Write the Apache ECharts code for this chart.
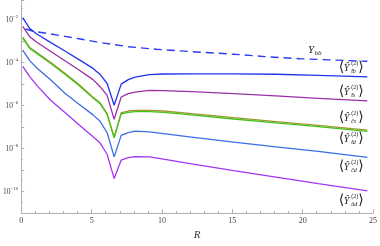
<!DOCTYPE html>
<html><head><meta charset="utf-8">
<script src="https://cdn.jsdelivr.net/npm/echarts/dist/echarts.min.js"></script>
<style>html,body{margin:0;padding:0;background:#fff}#c{width:380px;height:246px}</style>
</head><body><div id="c"></div>
<script>
// sample points in R (log10 values of Yukawa-like quantities)
const rGrid = [0.1,0.6,1.1,2.1,3.1,4.1,5.1,5.6,6.1,6.6,7.1,7.6,8.1,9.1,10.1,12.1,15.1,18.1,21.1,24.6];
const logTb = [-1.92,-2.43,-2.68,-3.08,-3.47,-3.87,-4.28,-4.56,-4.98,-5.99,-5.01,-4.80,-4.68,-4.57,-4.54,-4.53,-4.53,-4.55,-4.60,-4.67];
const logTs = [-2.33,-2.81,-3.06,-3.49,-3.92,-4.35,-4.80,-5.13,-5.53,-6.65,-5.61,-5.45,-5.38,-5.30,-5.31,-5.36,-5.45,-5.56,-5.67,-5.79];
const logCs = [-2.83,-3.31,-3.54,-4.01,-4.51,-5.03,-5.62,-5.88,-6.38,-7.48,-6.34,-6.26,-6.23,-6.23,-6.26,-6.38,-6.57,-6.75,-6.93,-7.15];
const logTd = [-2.87,-3.35,-3.58,-4.05,-4.55,-5.07,-5.66,-5.92,-6.42,-7.51,-6.39,-6.32,-6.29,-6.29,-6.32,-6.44,-6.63,-6.81,-6.99,-7.21];
const logCd = [-3.43,-3.92,-4.26,-4.82,-5.43,-5.95,-6.44,-6.74,-7.27,-8.39,-7.39,-7.26,-7.19,-7.23,-7.31,-7.47,-7.71,-7.93,-8.14,-8.41];
const logUd = [-4.18,-4.66,-5.07,-5.77,-6.33,-6.90,-7.46,-7.75,-8.27,-9.40,-8.54,-8.43,-8.38,-8.39,-8.50,-8.72,-9.03,-9.33,-9.63,-9.97];
const rBb = [0.3,0.9,2.1,3.1,4.1,5.6,7.6,9.6,12.1,15.1,17.3,19.8,24.6];
const logBb = [-2.45,-2.56,-2.68,-2.79,-2.90,-3.08,-3.27,-3.39,-3.50,-3.62,-3.73,-3.83,-3.95];
const xTicks = [0,5,10,15,20,25];
const yLabelDecades = [-2,-4,-6,-8,-10];
// curve labels: subscript text and anchor (R, log10 value)
const labelSubs = ['t\u0303b','t\u0303s','c\u0303s','t\u0303d','c\u0303d','\u0169d'];
const labelAnchors = [[23.45,-4.21],[23.45,-5.34],[23.45,-6.54],[23.45,-7.53],[23.45,-8.81],[23.45,-10.39]];
const bbAnchor = [20.8,-3.44];

const colors = {tb:'#2233ee', ts:'#9a2ea6', cs:'#a39430', td:'#44c21c', cd:'#3b6ee2', ud:'#a236f2', bb:'#2a3cf0'};
const pair = (xs, ys) => xs.map((x,i)=>[x, ys[i]]);
const line = (name, xs, ys, color, extra) => Object.assign({
  name, type:'line', data: pair(xs, ys), showSymbol:false, symbol:'none', silent:true,
  lineStyle:{color, width:1.3}, animation:false
}, extra||{});

const chart = echarts.init(document.getElementById('c'), null, {renderer:'canvas'});
const serif = '"Liberation Serif", "DejaVu Serif", serif';
chart.setOption({
  animation:false,
  grid:{left:21, right:4.3, top:0, bottom:27, containLabel:false},
  xAxis:{type:'value', min:0, max:25, interval:5,
    axisLine:{lineStyle:{color:'#b0b0b0', width:1}},
    axisTick:{inside:true, length:4, lineStyle:{color:'#b0b0b0'}},
    minorTick:{show:true, splitNumber:5, length:2, lineStyle:{color:'#b0b0b0'}},
    splitLine:{show:false},
    axisLabel:{color:'#444', fontFamily:serif, fontSize:8, margin:4,
      formatter:v => xTicks.includes(v) ? String(v) : ''},
    name:'R', nameLocation:'middle', nameGap:17,
    nameTextStyle:{fontFamily:serif, fontStyle:'italic', fontSize:11, color:'#333'}
  },
  yAxis:{type:'value', min:-11, max:-1.1, interval:1,
    axisLine:{show:true, lineStyle:{color:'#b0b0b0', width:1}},
    axisTick:{show:true, inside:true, length:3, lineStyle:{color:'#b0b0b0'}},
    minorTick:{show:true, splitNumber:2, length:1.5, lineStyle:{color:'#b0b0b0'}},
    splitLine:{show:false},
    axisLabel:{showMaxLabel:false, margin:3, color:'#444',
      formatter:v => yLabelDecades.includes(v) ? '{b|10}{s|\u2212' + (-v) + '}' : '',
      rich:{
        b:{fontFamily:serif, fontSize:7.5, color:'#444', verticalAlign:'bottom', lineHeight:10},
        s:{fontFamily:serif, fontSize:5, color:'#444', verticalAlign:'top', lineHeight:10, padding:[0,0,4,0]}
      }}
  },
  series:[
    line('bb', rBb, logBb, colors.bb, {lineStyle:{color:colors.bb, width:1.4, type:[8,5]}}),
    line('tb', rGrid, logTb, colors.tb),
    line('ts', rGrid, logTs, colors.ts),
    line('cs', rGrid, logCs, colors.cs),
    line('td', rGrid, logTd, colors.td),
    line('cd', rGrid, logCd, colors.cd),
    line('ud', rGrid, logUd, colors.ud)
  ]
});

const txtCol = '#222';
function t(text, x, y, size, italic, align, valign, family){
  return {type:'text', x, y, silent:true, style:{text, fill:txtCol,
    font:(italic?'italic ':'') + size + 'px ' + (family||serif),
    textAlign:align, textVerticalAlign:valign, align:align, verticalAlign:valign}};
}
const graphics = labelAnchors.map((a, i) => {
  const p = chart.convertToPixel({gridIndex:0}, a);
  return {type:'group', x:p[0], y:p[1], silent:true, children:[
    t('\u27E8', -12.5, 0, 14, false, 'left', 'middle', '"DejaVu Sans", sans-serif'),
    t('\u0176', -7.5, 1, 10, true, 'left', 'middle'),
    t('(2)', 0, -3.5, 6, false, 'left', 'middle'),
    t(labelSubs[i], 0, 4.5, 6, true, 'left', 'middle'),
    t('\u27E9', 12.5, 0, 14, false, 'right', 'middle', '"DejaVu Sans", sans-serif')
  ]};
});
const pb = chart.convertToPixel({gridIndex:0}, bbAnchor);
graphics.push({type:'group', x:pb[0], y:pb[1], silent:true, children:[
  t('Y', -6, 0, 11, true, 'left', 'middle'),
  t('bb', 0.5, 2.5, 7, true, 'left', 'middle')
]});
chart.setOption({graphic:graphics});
</script></body></html>
